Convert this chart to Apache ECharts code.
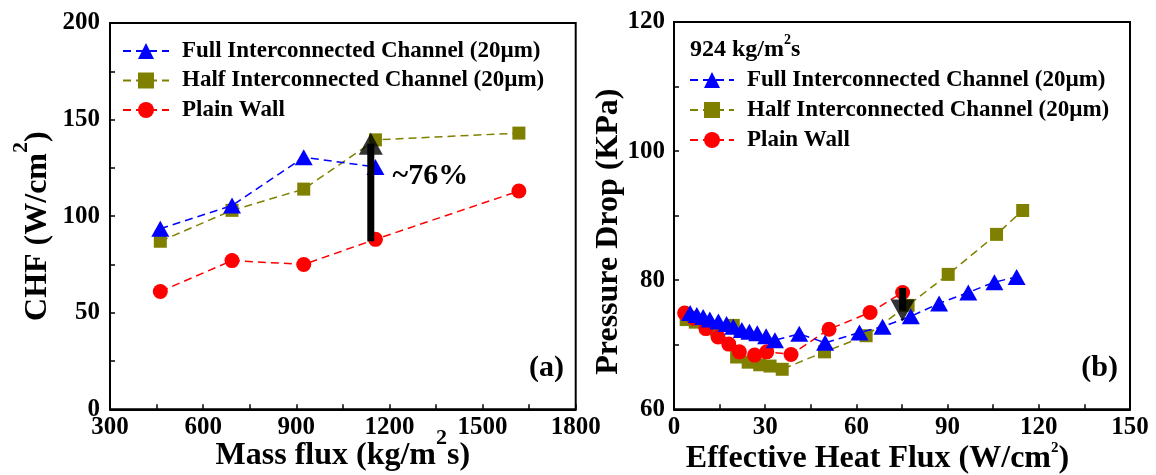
<!DOCTYPE html>
<html><head><meta charset="utf-8">
<script src="https://cdn.jsdelivr.net/npm/echarts@6/dist/echarts.min.js"></script>
<style>html,body{margin:0;padding:0;background:#fff}#c{width:1156px;height:475px}</style>
</head><body><div id="c"></div>
<script>
// ---------- data: panel (a) ----------
const massFlux = [462, 693, 924, 1155, 1617];
const chfFull  = [93.5, 105.5, 130.5, 125.5];
const chfHalf  = [87, 103, 114, 139.5, 143];
const chfPlain = [61, 77, 75, 88, 113];
const arrowAX = 1140;            // annotation arrow (a): shaft start, head centre
const arrowAY = [87, 137.5];
const noteA = ['~76%', 1332, 120.5];

// ---------- data: panel (b) ----------
const heatFull = [5.3, 7.5, 9.6, 11.8, 14.6, 17.3, 19.5, 22.3, 24.8, 27.4, 30.3, 33.2, 41.2, 49.7, 61.0, 68.6, 77.9, 87.2, 96.8, 105.4, 112.7];
const dpFull   = [74.9, 74.6, 74.3, 73.9, 73.6, 73.2, 72.8, 72.3, 72.0, 71.8, 71.3, 70.7, 71.7, 70.3, 71.9, 72.8, 74.4, 76.4, 78.1, 79.7, 80.5];
const heatHalf = [4.0, 7.0, 10.5, 14.0, 19.5, 20.6, 24.4, 28.2, 31.6, 35.6, 49.5, 63.2, 77.0, 90.2, 106.1, 114.7];
const dpHalf   = [73.9, 73.5, 72.8, 72.3, 73.0, 68.1, 67.3, 66.9, 66.7, 66.2, 68.9, 71.4, 76.1, 80.9, 87.1, 90.8];
const heatPlain = [3.5, 6.5, 10.5, 14.5, 18.0, 21.5, 26.5, 30.5, 38.5, 51.0, 64.5, 75.2];
const dpPlain   = [74.9, 74.1, 72.5, 71.2, 70.1, 68.9, 68.4, 68.9, 68.5, 72.4, 75.0, 78.1];
const arrowBX = 75.2;            // annotation arrow (b): shaft start, head centre
const arrowBY = [78.8, 75.3];

const seriesNames = ['Full Interconnected Channel (20µm)', 'Half Interconnected Channel (20µm)', 'Plain Wall'];
const colors = ['#0000ff', '#808000', '#ff0000'];
const symbols = ['triangle', 'rect', 'circle'];
const symbolSizes = [[18, 16], 13, 15];

const FONT = '"Liberation Serif", "Times New Roman", serif';
const zip = (xs, ys) => ys.map((y, i) => [xs[i], y]);

function axis(gridIndex, min, max, interval) {
  return {
    type: 'value', gridIndex, min, max, interval,
    axisLine: { show: true, onZero: false, lineStyle: { color: '#000', width: 2 } },
    axisTick: { show: true, inside: true, length: 5, lineStyle: { color: '#000', width: 1.5 } },
    minorTick: { show: true, splitNumber: 2, length: 5, lineStyle: { color: '#000', width: 1.5 } },
    splitLine: { show: false },
    axisLabel: { color: '#000', fontFamily: FONT, fontWeight: 'bold', fontSize: 25, formatter: v => String(v) },
    nameLocation: 'middle',
    nameMoveOverlap: false
  };
}
function nameStyle(fs, bLH, supFs, pad) {
  return {
    color: '#000', fontFamily: FONT, fontWeight: 'bold', fontSize: fs, padding: pad,
    rich: {
      b: { color: '#000', fontFamily: FONT, fontWeight: 'bold', fontSize: fs, lineHeight: bLH },
      sup: { color: '#000', fontFamily: FONT, fontWeight: 'bold', fontSize: supFs, lineHeight: supFs, verticalAlign: 'top' }
    }
  };
}
function lineSeries(k, xi, yi, data, z) {
  return {
    type: 'line', name: seriesNames[k], xAxisIndex: xi, yAxisIndex: yi, data,
    symbol: symbols[k], symbolSize: symbolSizes[k], z,
    itemStyle: { color: colors[k] },
    lineStyle: { color: colors[k], width: 1.5, type: [8, 5] },
    emphasis: { disabled: true }, animation: false
  };
}
function arrowSeries(xi, x, ys, rotate) {
  return [
    { type: 'line', xAxisIndex: xi, yAxisIndex: xi, data: [[x, ys[0]], [x, ys[1]]], symbol: 'none', z: 10,
      silent: true, animation: false, lineStyle: { color: '#000', width: 7, type: 'solid', cap: 'butt' } },
    { type: 'scatter', xAxisIndex: xi, yAxisIndex: xi, data: [[x, ys[1]]], symbol: 'triangle', symbolSize: [24, 22],
      symbolRotate: rotate, z: 11, silent: true, animation: false, itemStyle: { color: '#000' } }
  ];
}

const xA = axis(0, 300, 1800, 300);
Object.assign(xA, { name: '{b|Mass flux (kg/m}{sup|2}{b|s)}', nameGap: 18, nameTextStyle: nameStyle(32, 56, 22, [0, 0, 0, 0]) });
xA.axisLabel.margin = 6;
const yA = axis(0, 0, 200, 50);
Object.assign(yA, { name: '{b|CHF (W/cm}{sup|2}{b|)}', nameGap: 44, nameTextStyle: nameStyle(32, 56, 22, [0, 20, 0, 0]) });
yA.axisLabel.margin = 10;
const xB = axis(1, 0, 150, 30);
Object.assign(xB, { name: '{b|Effective Heat Flux (W/cm}{sup|2}{b|)}', nameGap: 31, nameTextStyle: nameStyle(32, 37, 15, [0, 49, 0, 0]) });
xB.axisLabel.margin = 6;
const yB = axis(1, 60, 120, 20);
Object.assign(yB, { name: 'Pressure Drop (KPa)', nameGap: 49, nameTextStyle: { color: '#000', fontFamily: FONT, fontWeight: 'bold', fontSize: 32, lineHeight: 32, padding: [0, 32, 0, 0] } });
yB.axisLabel.margin = 9;

const legendText = { color: '#000', fontFamily: FONT, fontWeight: 'bold', fontSize: 23, lineHeight: 24, padding: [0, 0, 0, 8] };

const halfA = lineSeries(1, 0, 0, zip(massFlux, chfHalf), 2);
const plainA = lineSeries(2, 0, 0, zip(massFlux, chfPlain), 3);
const fullA = lineSeries(0, 0, 0, zip(massFlux, chfFull), 4);
fullA.markPoint = {
  silent: true, animation: false, symbol: 'circle', symbolSize: 1, itemStyle: { color: 'rgba(0,0,0,0)' },
  label: { show: true, position: 'inside', formatter: noteA[0], color: '#000', fontFamily: FONT, fontWeight: 'bold', fontSize: 30 },
  data: [{ coord: [noteA[1], noteA[2]] }]
};
const halfB = lineSeries(1, 1, 1, zip(heatHalf, dpHalf), 2);
const plainB = lineSeries(2, 1, 1, zip(heatPlain, dpPlain), 3);
const fullB = lineSeries(0, 1, 1, zip(heatFull, dpFull), 4);

const chart = echarts.init(document.getElementById('c'), null, { renderer: 'canvas' });
chart.setOption({
  animation: false,
  backgroundColor: '#fff',
  grid: [
    { left: 110, right: 580.3, top: 23, bottom: 65.7, show: true, borderColor: '#000', borderWidth: 2, outerBoundsMode: 'none' },
    { left: 674, right: 26, top: 22, bottom: 65.7, show: true, borderColor: '#000', borderWidth: 2, outerBoundsMode: 'none' }
  ],
  xAxis: [xA, xB],
  yAxis: [yA, yB],
  legend: [
    { orient: 'vertical', left: 122, top: 39, padding: 0, itemWidth: 46, itemHeight: 20, itemGap: 5.5, data: seriesNames, textStyle: legendText, selectedMode: false },
    { orient: 'vertical', left: 689, top: 68, padding: 0, itemWidth: 44, itemHeight: 20, itemGap: 6, data: seriesNames, textStyle: legendText, selectedMode: false }
  ],
  graphic: [
    { type: 'text', right: 592, top: 353, style: { text: '(a)', font: 'bold 30px ' + FONT, fill: '#000' } },
    { type: 'text', right: 38, top: 353, style: { text: '(b)', font: 'bold 30px ' + FONT, fill: '#000' } },
    { type: 'text', x: 690, y: 50, style: {
        text: '{b|924 kg/m}{sup|2}{b|s}', verticalAlign: 'middle', fill: '#000',
        rich: {
          b: { fontFamily: FONT, fontWeight: 'bold', fontSize: 24, lineHeight: 33, fill: '#000' },
          sup: { fontFamily: FONT, fontWeight: 'bold', fontSize: 14, lineHeight: 14, verticalAlign: 'top', fill: '#000' }
        } } }
  ],
  series: [halfA, plainA, fullA, halfB, plainB, fullB]
    .concat(arrowSeries(0, arrowAX, arrowAY, 0))
    .concat(arrowSeries(1, arrowBX, arrowBY, 180))
});
</script></body></html>
